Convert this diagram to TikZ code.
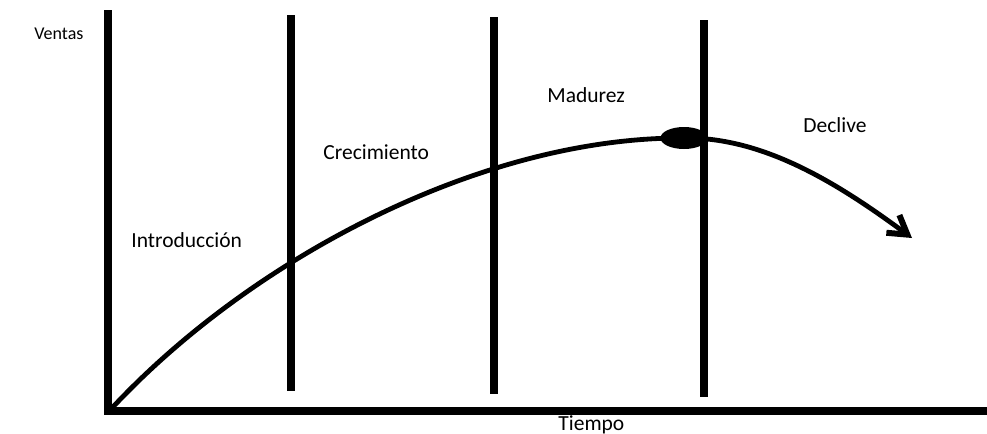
\documentclass[tikz,border=0pt]{standalone}
\usepackage{fontspec}
\setmainfont{Carlito}
\usepackage{tikz}
\usetikzlibrary{arrows.meta,shapes.geometric,positioning}
\tikzset{
    axis/.style={line width=4pt, black, line cap=butt},
    stage/.style={line width=3.6pt, black},
    sales/.style={line width=2.4pt, black},
    trend/.style={-{Straight Barb[length=9pt, width=11pt, line width=3pt]}, line width=2.4pt, black},
    phase/.style={anchor=base west, inner sep=0pt, font=\fontsize{10.75}{12}\selectfont},
    peakmark/.style={ellipse, fill=black, minimum width=23.5pt, minimum height=11pt, inner sep=0pt}
}

\begin{document}
\begin{tikzpicture}[x=0.5pt, y=-0.5pt]
        \useasboundingbox (0,0) rectangle (987,434);
        \coordinate (top) at (108,10);
        \coordinate (origin) at (108,411);
        \coordinate (end) at (987,411);
        \coordinate (start) at (112,408);
        \coordinate (l1top) at (291,15);
        \coordinate (l1bot) at (291,391);
        \coordinate (l2top) at (494,17);
        \coordinate (l2bot) at (494,394);
        \coordinate (l3top) at (704,20);
        \coordinate (l3bot) at (704,397);
        \coordinate (tip) at (912,238);
        \node[peakmark] (peak) at (684,138) {};

        \node[anchor=base west, inner sep=0pt, font=\fontsize{9}{11}\selectfont] (ventas) at (34,39) {Ventas};
        \node[phase] (intro) at (131,247) {Introducción};
        \node[phase] (crec) at (323,159) {Crecimiento};
        \node[phase] (madurez) at (547,102) {Madurez};
        \node[phase] (declive) at (803,132) {Declive};
        \node[phase] (tiempo) at (558,430) {Tiempo};

        \draw[axis] (top) -- (origin) -- (end);
        \draw[stage] (l1top) -- (l1bot);
        \draw[stage] (l2top) -- (l2bot);
        \draw[stage] (l3top) -- (l3bot);

        \draw[sales] (start) .. controls (250,260) and (480,137) .. (peak.center);
        \draw[trend] (peak.center) .. controls (765,137) and (840,185) .. (tip);
    \end{tikzpicture}
\end{document}
